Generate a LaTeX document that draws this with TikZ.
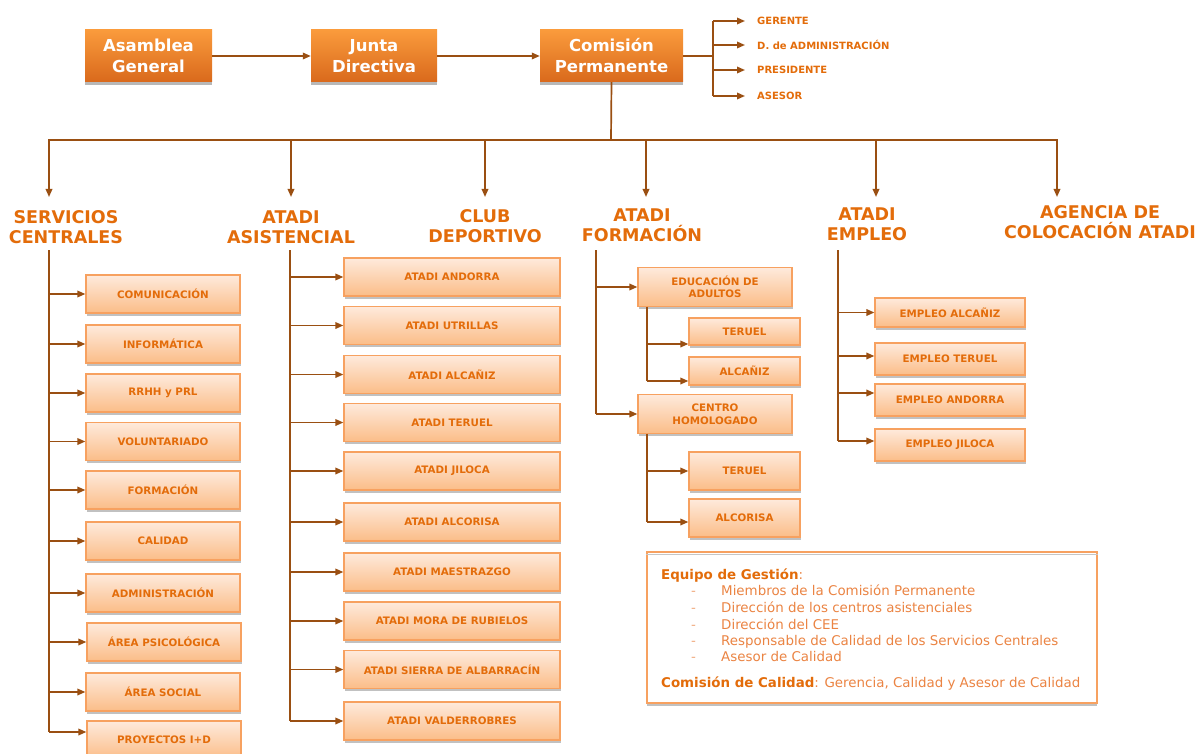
\documentclass[tikz,border=0pt]{standalone}
\usepackage{fontspec}
\setmainfont{DejaVu Sans}
\usetikzlibrary{arrows.meta,shadows}
\definecolor{naranja}{HTML}{E36C0A}
\definecolor{naranjaclaro}{HTML}{EB8443}
\definecolor{marron}{HTML}{9A4F12}
\definecolor{ostop}{HTML}{FA9B3C}
\definecolor{osbot}{HTML}{D9691C}
\definecolor{clartop}{HTML}{FEEADC}
\definecolor{clarbot}{HTML}{FBBD88}
\definecolor{borde}{HTML}{F7A160}

\begin{document}
\begin{tikzpicture}[x=1pt,y=-1pt,
	topbox/.style={rectangle, top color=ostop, bottom color=osbot, text=white, font=\fontsize{16.5}{21}\selectfont\bfseries, align=center, inner sep=0pt, minimum height=52pt, drop shadow={shadow xshift=0pt, shadow yshift=-3pt, fill=gray!70, opacity=.8}},
	subbox/.style={rectangle, top color=clartop, bottom color=clarbot, draw=borde, line width=1.2pt, text=naranja, font=\fontsize{10.3}{12.5}\selectfont\bfseries, align=center, inner sep=0pt, minimum height=38pt, drop shadow={shadow xshift=1pt, shadow yshift=-2.5pt, fill=gray!60, opacity=.8}},
	head/.style={text=naranja, font=\fontsize{17.5}{20.5}\selectfont\bfseries, align=center, inner sep=0pt},
	lbl/.style={text=naranja, font=\fontsize{10}{12}\selectfont\bfseries, anchor=west, inner sep=0pt},
	txt/.style={text=naranja, font=\fontsize{13.4}{15}\selectfont, anchor=base west, inner sep=0pt},
	ln/.style={draw=marron, line width=1.7pt},
	arr/.style={ln, -{Triangle[length=8pt,width=6.5pt]}}]
	\useasboundingbox (0,0) rectangle (1199,754);

	\node[topbox, minimum width=127pt] (asam) at (148.5,56) {Asamblea\\General};
	\node[topbox, minimum width=126pt] (junta) at (374,56) {Junta\\Directiva};
	\node[topbox, minimum width=143pt] (comi) at (611.5,56) {Comisión\\Permanente};
	\draw[arr] (asam) -- (junta);
	\draw[arr] (junta) -- (comi);

	\node[lbl] (ger) at (757,21) {GERENTE};
	\node[lbl] (dadm) at (757,45) {D. de ADMINISTRACIÓN};
	\node[lbl] (pres) at (757,70) {PRESIDENTE};
	\node[lbl] (ases) at (757,96) {ASESOR};
	\coordinate (rbus) at (713,56);
	\draw[ln] (comi.east) -- (rbus);
	\draw[ln] (rbus |- ger) -- (rbus |- ases);
	\draw[arr, shorten >=12pt] (rbus |- ger) -- (ger.west);
	\draw[arr, shorten >=12pt] (rbus |- dadm) -- (dadm.west);
	\draw[arr, shorten >=12pt] (rbus |- pres) -- (pres.west);
	\draw[arr, shorten >=12pt] (rbus |- ases) -- (ases.west);

	\node[head] (sc) at (66,227) {SERVICIOS\\CENTRALES};
	\node[head] (as) at (291,227) {ATADI\\ASISTENCIAL};
	\node[head] (cd) at (485,226) {CLUB\\DEPORTIVO};
	\node[head] (fo) at (642,225) {ATADI\\FORMACIÓN};
	\node[head] (em) at (867,224) {ATADI\\EMPLEO};
	\node[head] (ag) at (1100,222) {AGENCIA DE\\COLOCACIÓN ATADI};

	\coordinate (bus) at (611,140);
	\coordinate (dsc) at (49,197);
	\coordinate (das) at (291,197);
	\coordinate (dcd) at (485,197);
	\coordinate (dfo) at (646,197);
	\coordinate (dem) at (876,197);
	\coordinate (dag) at (1057,197);
	\draw[ln] (comi.south) -- (bus);
	\draw[ln, line cap=rect] (bus -| dsc) -- (bus -| dag);
	\draw[arr] (bus -| dsc) -- (dsc);
	\draw[arr] (bus -| das) -- (das);
	\draw[arr] (bus -| dcd) -- (dcd);
	\draw[arr] (bus -| dfo) -- (dfo);
	\draw[arr] (bus -| dem) -- (dem);
	\draw[arr] (bus -| dag) -- (dag);

	\node[subbox, minimum width=154pt] (sc1) at (163,294) {COMUNICACIÓN};
	\node[subbox, minimum width=154pt] (sc2) at (163,344) {INFORMÁTICA};
	\node[subbox, minimum width=154pt] (sc3) at (163,393) {RRHH y PRL};
	\node[subbox, minimum width=154pt] (sc4) at (163,441.5) {VOLUNTARIADO};
	\node[subbox, minimum width=154pt] (sc5) at (163,490) {FORMACIÓN};
	\node[subbox, minimum width=154pt] (sc6) at (163,541) {CALIDAD};
	\node[subbox, minimum width=154pt] (sc7) at (163,593) {ADMINISTRACIÓN};
	\node[subbox, minimum width=154pt] (sc8) at (164,642) {ÁREA PSICOLÓGICA};
	\node[subbox, minimum width=154pt] (sc9) at (163,692) {ÁREA SOCIAL};
	\node[subbox, minimum width=154pt] (sc10) at (164,740) {PROYECTOS I+D};
	\coordinate (scb) at (49,250);
	\coordinate (scf) at (49,732);
	\draw[ln] (scb) -- (scf);
	\draw[arr] (scb |- sc1) -- (sc1.west);
	\draw[arr] (scb |- sc2) -- (sc2.west);
	\draw[arr] (scb |- sc3) -- (sc3.west);
	\draw[arr] (scb |- sc4) -- (sc4.west);
	\draw[arr] (scb |- sc5) -- (sc5.west);
	\draw[arr] (scb |- sc6) -- (sc6.west);
	\draw[arr] (scb |- sc7) -- (sc7.west);
	\draw[arr] (scb |- sc8) -- (sc8.west);
	\draw[arr] (scb |- sc9) -- (sc9.west);
	\draw[arr] (scf) -- (scf -| sc10.west);

	\node[subbox, minimum width=216pt] (as1) at (452,277) {ATADI ANDORRA};
	\node[subbox, minimum width=216pt] (as2) at (452,325.5) {ATADI UTRILLAS};
	\node[subbox, minimum width=216pt] (as3) at (452,374.5) {ATADI ALCAÑIZ};
	\node[subbox, minimum width=216pt] (as4) at (452,422.5) {ATADI TERUEL};
	\node[subbox, minimum width=216pt] (as5) at (452,471) {ATADI JILOCA};
	\node[subbox, minimum width=216pt] (as6) at (452,522) {ATADI ALCORISA};
	\node[subbox, minimum width=216pt] (as7) at (452,572) {ATADI MAESTRAZGO};
	\node[subbox, minimum width=216pt] (as8) at (452,621) {ATADI MORA DE RUBIELOS};
	\node[subbox, minimum width=216pt] (as9) at (452,669.5) {ATADI SIERRA DE ALBARRACÍN};
	\node[subbox, minimum width=216pt] (as10) at (452,721) {ATADI VALDERROBRES};
	\coordinate (asb) at (290,250);
	\draw[ln] (asb) -- (asb |- as10);
	\draw[arr] (asb |- as1) -- (as1.west);
	\draw[arr] (asb |- as2) -- (as2.west);
	\draw[arr] (asb |- as3) -- (as3.west);
	\draw[arr] (asb |- as4) -- (as4.west);
	\draw[arr] (asb |- as5) -- (as5.west);
	\draw[arr] (asb |- as6) -- (as6.west);
	\draw[arr] (asb |- as7) -- (as7.west);
	\draw[arr] (asb |- as8) -- (as8.west);
	\draw[arr] (asb |- as9) -- (as9.west);
	\draw[arr] (asb |- as10) -- (as10.west);

	\node[subbox, minimum width=154pt, minimum height=39pt] (fo1) at (715,287) {EDUCACIÓN DE\\ADULTOS};
	\node[subbox, minimum width=154pt, minimum height=39pt] (fo2) at (715,414) {CENTRO\\HOMOLOGADO};
	\coordinate (fob) at (596,250);
	\draw[ln] (fob) -- (fob |- fo2);
	\draw[arr] (fob |- fo1) -- (fo1.west);
	\draw[arr] (fob |- fo2) -- (fo2.west);
	\node[subbox, minimum width=111pt, minimum height=27pt] (f11) at (744.5,331.5) {TERUEL};
	\node[subbox, minimum width=111pt, minimum height=28pt] (f12) at (744.5,371) {ALCAÑIZ};
	\coordinate (f1b) at (647,306.5);
	\draw[ln] (f1b) -- ([yshift=-10pt]f12.west -| f1b);
	\draw[arr] ([yshift=-12.5pt]f11.west -| f1b) -- ([yshift=-12.5pt]f11.west);
	\draw[arr] ([yshift=-10pt]f12.west -| f1b) -- ([yshift=-10pt]f12.west);
	\node[subbox, minimum width=111pt] (f21) at (744.5,471) {TERUEL};
	\node[subbox, minimum width=111pt] (f22) at (744.5,518) {ALCORISA};
	\coordinate (f2b) at (647,433.5);
	\draw[ln] (f2b) -- ([yshift=-4pt]f22.west -| f2b);
	\draw[arr] (f2b |- f21) -- (f21.west);
	\draw[arr] ([yshift=-4pt]f22.west -| f2b) -- ([yshift=-4pt]f22.west);

	\node[subbox, minimum width=150pt, minimum height=29pt] (em1) at (950,312.5) {EMPLEO ALCAÑIZ};
	\node[subbox, minimum width=150pt, minimum height=32pt] (em2) at (950,359) {EMPLEO TERUEL};
	\node[subbox, minimum width=150pt, minimum height=32pt] (em3) at (950,400) {EMPLEO ANDORRA};
	\node[subbox, minimum width=150pt, minimum height=32pt] (em4) at (950,445) {EMPLEO JILOCA};
	\coordinate (emb) at (838,250);
	\draw[ln] (emb) -- ([yshift=4pt]em4.west -| emb);
	\draw[arr] (emb |- em1) -- (em1.west);
	\draw[arr] ([yshift=3pt]em2.west -| emb) -- ([yshift=3pt]em2.west);
	\draw[arr] ([yshift=7pt]em3.west -| emb) -- ([yshift=7pt]em3.west);
	\draw[arr] ([yshift=4pt]em4.west -| emb) -- ([yshift=4pt]em4.west);

	\node[rectangle, draw=borde, line width=1.3pt, fill=white, minimum width=450pt, minimum height=151pt, drop shadow={shadow xshift=0pt, shadow yshift=-2.5pt, fill=gray!60, opacity=.8}] (nota) at (872,627.5) {};
	\draw[gray!45, line width=1pt] ([yshift=-3.5pt]nota.north west) -- ([yshift=-3.5pt]nota.north east);
	\node[txt] (eq) at (661,579) {\textbf{Equipo de Gestión}{\color{naranjaclaro}:}};
	\node[txt, text=naranjaclaro!70] (g1) at (691,595) {-};
	\node[txt, text=naranjaclaro!70] (g2) at (691,612) {-};
	\node[txt, text=naranjaclaro!70] (g3) at (691,629) {-};
	\node[txt, text=naranjaclaro!70] (g4) at (691,645) {-};
	\node[txt, text=naranjaclaro!70] (g5) at (691,661) {-};
	\node[txt, text=naranjaclaro] (t1) at (721,595) {Miembros de la Comisión Permanente};
	\node[txt, text=naranjaclaro] (t2) at (721,612) {Dirección de los centros asistenciales};
	\node[txt, text=naranjaclaro] (t3) at (721,629) {Dirección del CEE};
	\node[txt, text=naranjaclaro] (t4) at (721,645) {Responsable de Calidad de los Servicios Centrales};
	\node[txt, text=naranjaclaro] (t5) at (721,661) {Asesor de Calidad};
	\node[txt] (cc) at (661,687) {\textbf{Comisión de Calidad}{\color{naranjaclaro}: Gerencia, Calidad y Asesor de Calidad}};
\end{tikzpicture}
\end{document}
